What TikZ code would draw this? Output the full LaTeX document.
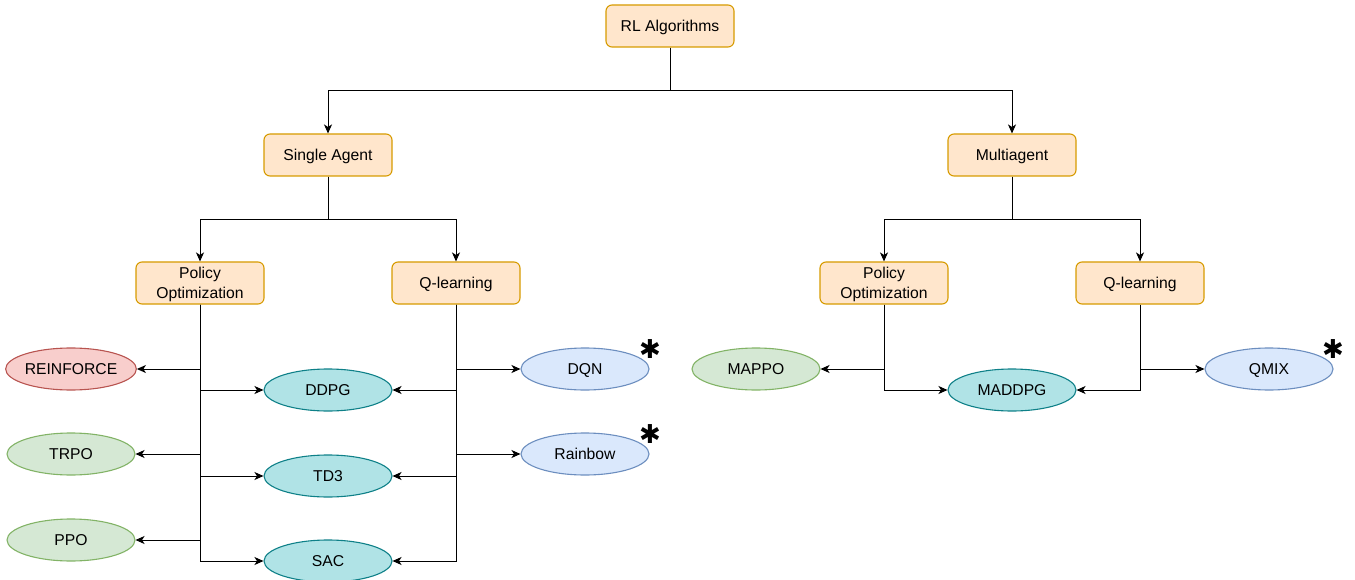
\documentclass[tikz,border=0pt]{standalone}
\usepackage{fontspec}
\setmainfont{Liberation Sans}
\newfontfamily\symfont{DejaVu Sans}
\usetikzlibrary{shapes.geometric,arrows.meta}
\definecolor{boxfill}{HTML}{FFE6CC}
\definecolor{boxdraw}{HTML}{D79B00}
\definecolor{redfill}{HTML}{F8CECC}
\definecolor{reddraw}{HTML}{B85450}
\definecolor{greenfill}{HTML}{D5E8D4}
\definecolor{greendraw}{HTML}{82B366}
\definecolor{tealfill}{HTML}{B0E3E6}
\definecolor{tealdraw}{HTML}{0E8088}
\definecolor{bluefill}{HTML}{DAE8FC}
\definecolor{bluedraw}{HTML}{6C8EBF}
\begin{document}
\begin{tikzpicture}[x=1pt,y=-1pt,
  every node/.style={font=\fontsize{15.7}{20}\selectfont, inner sep=0pt},
  catbox/.style={draw=boxdraw, fill=boxfill, rounded corners=6pt, line width=1.1pt,
    minimum width=128pt, minimum height=42pt, align=center, text depth=0pt},
  algo/.style={ellipse, line width=1.1pt, minimum width=128pt, minimum height=42pt, text depth=0pt},
  redalg/.style={algo, draw=reddraw, fill=redfill},
  greenalg/.style={algo, draw=greendraw, fill=greenfill},
  tealalg/.style={algo, draw=tealdraw, fill=tealfill},
  bluealg/.style={algo, draw=bluedraw, fill=bluefill},
  conn/.style={draw, line width=1pt, -{Stealth[length=9pt,width=8pt,inset=2.5pt]}},
  star/.style={font=\symfont\fontsize{26}{26}\selectfont}
]
\useasboundingbox (0,0) rectangle (1355,580);

% category boxes
\node[catbox] (rl) at (670,26) {RL Algorithms};
\node[catbox] (sa) at (328,155) {Single Agent};
\node[catbox] (ma) at (1012,155) {Multiagent};
\node[catbox] (sapo) at (200,283) {Policy\\Optimization};
\node[catbox] (saq) at (456,283) {Q-learning};
\node[catbox] (mapo) at (884,283) {Policy\\Optimization};
\node[catbox] (maq) at (1140,283) {Q-learning};

% algorithms
\node[redalg] (reinforce) at (71,369) {REINFORCE};
\node[greenalg] (trpo) at (71,454) {TRPO};
\node[greenalg] (ppo) at (71,540) {PPO};
\node[tealalg] (ddpg) at (328,390) {DDPG};
\node[tealalg] (td3) at (328,476) {TD3};
\node[tealalg] (sac) at (328,561) {SAC};
\node[bluealg] (dqn) at (585,369) {DQN};
\node[bluealg] (rainbow) at (585,454) {Rainbow};
\node[greenalg] (mappo) at (756,369) {MAPPO};
\node[tealalg] (maddpg) at (1012,390) {MADDPG};
\node[bluealg] (qmix) at (1269,369) {QMIX};

% asterisks
\node[star] (s1) at (650,349) {✱};
\node[star] (s2) at (650,434) {✱};
\node[star] (s3) at (1333,349) {✱};

% tree connectors
\draw[conn] (rl.south) -- ++(0,43) -| (sa.north);
\draw[conn] (rl.south) -- ++(0,43) -| (ma.north);
\draw[conn] (sa.south) -- ++(0,43) -| (sapo.north);
\draw[conn] (sa.south) -- ++(0,43) -| (saq.north);
\draw[conn] (ma.south) -- ++(0,43) -| (mapo.north);
\draw[conn] (ma.south) -- ++(0,43) -| (maq.north);

% single agent policy optimization
\draw[conn] (sapo.south) |- (reinforce.east);
\draw[conn] (sapo.south) |- (ddpg.west);
\draw[conn] (sapo.south) |- (trpo.east);
\draw[conn] (sapo.south) |- (td3.west);
\draw[conn] (sapo.south) |- (ppo.east);
\draw[conn] (sapo.south) |- (sac.west);

% single agent q-learning
\draw[conn] (saq.south) |- (dqn.west);
\draw[conn] (saq.south) |- (ddpg.east);
\draw[conn] (saq.south) |- (rainbow.west);
\draw[conn] (saq.south) |- (td3.east);
\draw[conn] (saq.south) |- (sac.east);

% multiagent
\draw[conn] (mapo.south) |- (mappo.east);
\draw[conn] (mapo.south) |- (maddpg.west);
\draw[conn] (maq.south) |- (qmix.west);
\draw[conn] (maq.south) |- (maddpg.east);
\end{tikzpicture}
\end{document}
